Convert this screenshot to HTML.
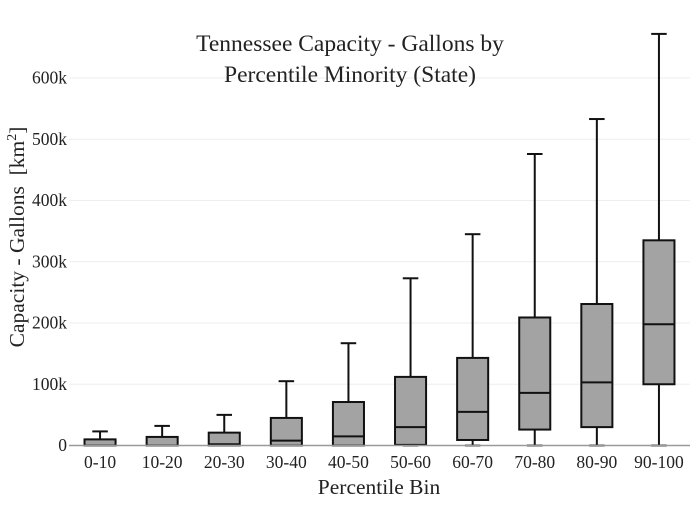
<!DOCTYPE html>
<html><head><meta charset="utf-8"><style>
body{margin:0;background:#fff}
svg text{font-family:"Liberation Serif",serif;fill:#222}
</style></head><body>
<svg id="chart" width="700" height="500" xmlns="http://www.w3.org/2000/svg">
<g id="grid"></g>
<g id="boxes"></g>
<g id="axes"></g>
<text x="350" y="51" text-anchor="middle" font-size="23.5">Tennessee Capacity - Gallons by</text>
<text x="350" y="82" text-anchor="middle" font-size="23.5">Percentile Minority (State)</text>
<text x="379" y="494" text-anchor="middle" font-size="21.5">Percentile Bin</text>
<text transform="translate(24,237) rotate(-90)" text-anchor="middle" font-size="21.5">Capacity - Gallons&#160; [km<tspan dy="-8" font-size="14">2</tspan><tspan dy="8">]</tspan></text>
</svg>
<script>
const categories=["0-10","10-20","20-30","30-40","40-50","50-60","60-70","70-80","80-90","90-100"];
const mins=[0,0,0,0,0,0,0,0,0,0];
const q1s=[0,0,0,0,0,1,9,26,30,100];
const medians=[0,0,2,8,15,30,55,86,103,198];
const q3s=[10,14,21,45,71,112,143,209,231,335];
const maxs=[23,32,50,105,167,273,345,476,533,672];
const yTicks=[0,100,200,300,400,500,600];
const yTickLabels=["0","100k","200k","300k","400k","500k","600k"];
const NS="http://www.w3.org/2000/svg";
const x0=69,x1=690,y0=445.5,pxPerK=0.6125;
const band=(x1-x0)/categories.length;
const xs=i=>x0+band*(i+0.5);
const ys=v=>y0-v*pxPerK;
function mk(tag,attrs,parent){const e=document.createElementNS(NS,tag);for(const k in attrs)e.setAttribute(k,attrs[k]);parent.appendChild(e);return e;}
const grid=document.getElementById('grid'),boxes=document.getElementById('boxes'),axes=document.getElementById('axes');
yTicks.forEach((t,i)=>{
  if(t>0){const l=mk('line',{x1:x0,x2:x1,y1:ys(t),y2:ys(t),stroke:'#eee','stroke-width':1},grid);
  
  }
  const tx=mk('text',{x:67,y:ys(t)+5.5,'text-anchor':'end','font-size':17.5},axes);
  tx.textContent=yTickLabels[i];
  
  
});
const zl=mk('line',{x1:x0,x2:x1,y1:y0,y2:y0,stroke:'#999','stroke-width':1.5},axes);


categories.forEach((c,i)=>{
  const cx=xs(i),w=band*0.5,cw=band*0.25;
  const g=mk('g',{},boxes);
  
  
  mk('line',{x1:cx,x2:cx,y1:ys(maxs[i]),y2:ys(q3s[i]),stroke:'#111','stroke-width':2},g);
  mk('line',{x1:cx,x2:cx,y1:ys(q1s[i]),y2:ys(mins[i]),stroke:'#111','stroke-width':2},g);
  mk('line',{x1:cx-cw/2,x2:cx+cw/2,y1:ys(maxs[i]),y2:ys(maxs[i]),stroke:'#111','stroke-width':2},g);
  mk('line',{x1:cx-cw/2,x2:cx+cw/2,y1:ys(mins[i]),y2:ys(mins[i]),stroke:'#111','stroke-width':2},g);
  mk('rect',{x:cx-w/2,y:ys(q3s[i]),width:w,height:Math.max(ys(q1s[i])-ys(q3s[i]),0),fill:'#a3a3a3',stroke:'#111','stroke-width':2},g);
  mk('line',{x1:cx-w/2,x2:cx+w/2,y1:ys(medians[i]),y2:ys(medians[i]),stroke:'#111','stroke-width':2},g);
  const tx=mk('text',{x:cx,y:468,'text-anchor':'middle','font-size':17.5},axes);
  tx.textContent=c;
  
  
});
</script>
</body></html>
